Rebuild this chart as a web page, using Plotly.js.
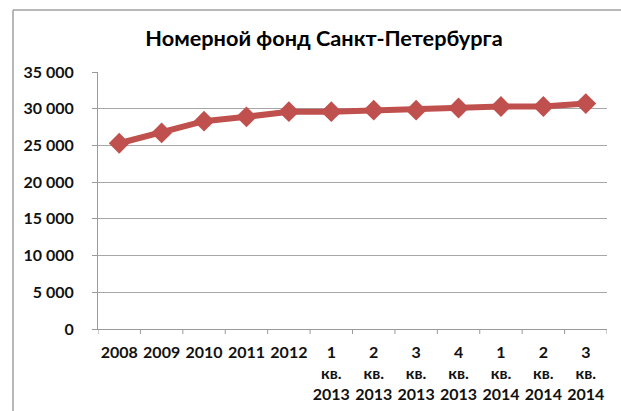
<!DOCTYPE html>
<html>
<head>
<meta charset="utf-8">
<script src="https://cdn.plot.ly/plotly-3.0.1.min.js"></script>
<style>
  html, body { margin: 0; padding: 0; background: #fff; }
  #chart { width: 621px; height: 411px; }
</style>
</head>
<body>
<div id="chart"></div>
<script>
const categories = ["2008", "2009", "2010", "2011", "2012",
  "1<br>кв.<br>2013", "2<br>кв.<br>2013", "3<br>кв.<br>2013", "4<br>кв.<br>2013",
  "1<br>кв.<br>2014", "2<br>кв.<br>2014", "3<br>кв.<br>2014"];
const roomStock = [25300, 26700, 28300, 28900, 29600, 29600, 29800, 29800, 30100, 30300, 30300, 30700];
const yTickValues = [0, 5000, 10000, 15000, 20000, 25000, 30000, 35000];
const chartTitle = "Номерной фонд Санкт-Петербурга";

const W = 621, H = 411;
const margin = { l: 98, r: 14, t: 72, b: 82 };
const pw = W - margin.l - margin.r, ph = H - margin.t - margin.b;
const px = v => (v - margin.l) / pw;
const py = v => (H - margin.b - v) / ph;

const font = "Lato, 'Open Sans', sans-serif";

const trace = {
  x: categories.map((c, i) => i),
  y: roomStock,
  type: "scatter",
  mode: "lines+markers",
  line: { color: "#c0504d", width: 6 },
  marker: { symbol: "diamond", size: 16, color: "#c0504d" },
  hoverinfo: "y"
};

const layout = {
  width: W, height: H,
  margin: margin,
  paper_bgcolor: "#fff", plot_bgcolor: "#fff",
  showlegend: false,
  title: {
    text: "<b>" + chartTitle + "</b>",
    font: { family: font, size: 21.7, color: "#000" },
    x: 324 / W, xref: "container", xanchor: "center",
    y: 1 - 38 / H, yref: "container", yanchor: "middle"
  },
  xaxis: {
    range: [-0.5, categories.length - 0.5],
    tickmode: "array",
    tickvals: categories.map((c, i) => i),
    ticktext: categories.map(c => "<b>" + c + "</b>"),
    showgrid: false,
    zeroline: false,
    showline: true, linecolor: "#9a9a9a", linewidth: 1,
    ticks: "",
    ticklabelstandoff: 9,
    tickfont: { family: font, size: 16, color: "#111" },
    tickangle: 0,
    fixedrange: true
  },
  yaxis: {
    range: [0, 35000],
    tickmode: "array",
    tickvals: yTickValues,
    ticktext: yTickValues.map(v => "<b>" + (v === 0 ? "0" : Math.floor(v / 1000) + " " + String(v % 1000).padStart(3, "0")) + "</b>"),
    showgrid: true, gridcolor: "#a6a6a6", gridwidth: 1,
    zeroline: false,
    showline: true, linecolor: "#9a9a9a", linewidth: 1,
    ticks: "outside", ticklen: 5, tickcolor: "#9a9a9a",
    ticklabelstandoff: 15,
    tickfont: { family: font, size: 16, color: "#111" },
    fixedrange: true
  },
  shapes: [
    ...categories.map((c, i) => ({
      type: "line", xref: "x", yref: "paper",
      x0: i + 0.5, x1: i + 0.5, y0: 0, y1: -5 / ph,
      line: { color: "#9a9a9a", width: 1 }
    })),
    {
      type: "line", xref: "x", yref: "paper",
      x0: -0.5, x1: -0.5, y0: 0, y1: -5 / ph,
      line: { color: "#9a9a9a", width: 1 }
    },
    { type: "line", xref: "paper", yref: "paper", x0: px(13), x1: px(621), y0: py(10), y1: py(10),
      line: { color: "#a0a0a0", width: 1.5 } },
    { type: "line", xref: "paper", yref: "paper", x0: px(13), x1: px(13), y0: py(10), y1: py(411),
      line: { color: "#a0a0a0", width: 1.5 } }
  ]
};

Plotly.newPlot("chart", [trace], layout, { displayModeBar: false, staticPlot: true });
</script>
</body>
</html>
